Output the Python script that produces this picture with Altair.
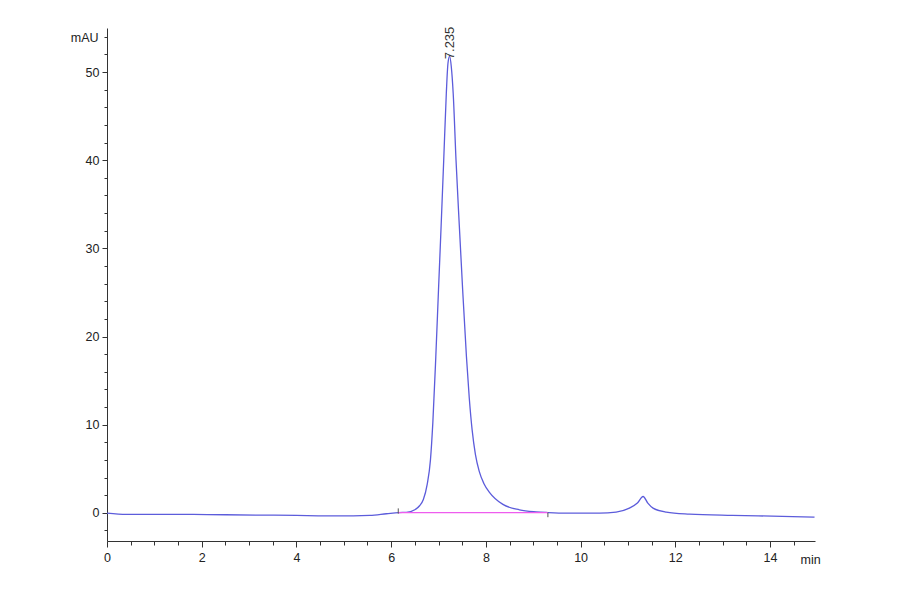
import altair as alt
import pandas as pd

# Chromatogram trace (minutes, mAU)
time_min = [0.00, 0.41, 1.00, 1.82, 2.50, 3.23, 4.00, 4.63, 5.20, 5.55, 5.90, 6.16, 6.32,
            6.50, 6.60, 6.68, 6.76, 6.83, 6.88, 6.943, 7.00, 7.055, 7.11, 7.165, 7.20, 7.235,
            7.27, 7.31, 7.37, 7.44, 7.51, 7.59, 7.65, 7.71, 7.78, 7.86, 7.96, 8.08, 8.36,
            8.71, 9.06, 9.31, 9.70, 10.40, 10.75, 11.03, 11.20, 11.32, 11.42, 11.53, 11.81,
            12.30, 13.20, 14.26, 14.94]
signal_mau = [-0.04, -0.19, -0.17, -0.19, -0.22, -0.26, -0.30, -0.34, -0.34, -0.30, -0.11, 0.03, 0.05,
              0.34, 0.80, 1.50, 3.20, 6.00, 10.2, 17.7, 25.3, 32.5, 40.0, 47.6, 51.0, 51.8,
              50.6, 47.6, 40.0, 32.5, 25.3, 17.7, 13.0, 9.4, 6.6, 4.7, 3.3, 2.3, 0.95,
              0.34, 0.11, 0.03, -0.04, -0.04, 0.08, 0.53, 1.10, 1.85, 1.10, 0.53, 0.08,
              -0.15, -0.30, -0.40, -0.50]

# Integration baseline and its end markers
base_t = [6.15, 9.31]
base_v = [0.03, 0.03]
mark_t = [6.15, 9.31]
mark_lo = [-0.10, -0.50]
mark_hi = [0.50, 0.03]

# Peak annotation
peak_t = [7.235]
peak_v = [51.8]
peak_lbl = ["7.235"]

x_tick_values = [i * 0.5 for i in range(30)]
y_tick_values = list(range(-2, 56, 2))

trace_df = pd.DataFrame({"t": time_min, "v": signal_mau})
base_df = pd.DataFrame({"t": base_t, "v": base_v})
mark_df = pd.DataFrame({"t": mark_t, "lo": mark_lo, "hi": mark_hi})
peak_df = pd.DataFrame({"t": peak_t, "v": peak_v, "lbl": peak_lbl})

AX_FONT = "Liberation Sans Narrow, Liberation Sans, Arial, sans-serif"
AX_COLOR = "#333333"

x_scale = alt.Scale(domain=[0, 14.95], nice=False, zero=False)
y_scale = alt.Scale(domain=[-3.2, 55], nice=False, zero=False)

x_axis = alt.Axis(
    values=x_tick_values, tickCount=200, labelFlush=False,
    labelExpr="datum.value % 2 === 0 ? '' + datum.value : ''",
    tickSize={"condition": {"test": "datum.value % 2 === 0", "value": 6}, "value": 4},
    grid=False, domainColor=AX_COLOR, tickColor=AX_COLOR, labelColor="#222222",
    labelFont=AX_FONT, labelFontSize=12.5, labelPadding=4, labelOverlap=False,
    title="min", titleFont=AX_FONT, titleFontSize=12.5, titleFontWeight="normal",
    titleColor="#222222", titleX=693, titleY=22, titleAlign="left",
    titleBaseline="alphabetic", titleAngle=0,
)
y_axis = alt.Axis(
    values=y_tick_values, tickCount=200, labelFlush=False,
    labelExpr="datum.value % 10 === 0 ? '' + datum.value : ''",
    tickSize={"condition": {"test": "datum.value % 10 === 0", "value": 5}, "value": 3},
    grid=False, domainColor=AX_COLOR, tickColor=AX_COLOR, labelColor="#222222",
    labelFont=AX_FONT, labelFontSize=12.5, labelPadding=3, labelOverlap=False,
    title="mAU", titleFont=AX_FONT, titleFontSize=12.5, titleFontWeight="normal",
    titleColor="#222222", titleAngle=0, titleAlign="right", titleBaseline="middle",
    titleX=-9, titleY=9,
)

trace = alt.Chart(trace_df).mark_line(
    color="#5c5cdb", strokeWidth=1.3, interpolate="monotone"
).encode(
    x=alt.X("t:Q", scale=x_scale, axis=x_axis),
    y=alt.Y("v:Q", scale=y_scale, axis=y_axis),
)

baseline = alt.Chart(base_df).mark_line(color="#ee5cee", strokeWidth=1.3).encode(
    x=alt.X("t:Q", scale=x_scale),
    y=alt.Y("v:Q", scale=y_scale),
)

markers = alt.Chart(mark_df).mark_rule(color="#555555", strokeWidth=1).encode(
    x=alt.X("t:Q", scale=x_scale),
    y=alt.Y("lo:Q", scale=y_scale),
    y2="hi:Q",
)

label = alt.Chart(peak_df).mark_text(
    angle=270, align="left", baseline="middle", dx=-3,
    font="Liberation Sans, Arial, sans-serif", fontSize=13, color="#333333",
).encode(
    x=alt.X("t:Q", scale=x_scale),
    y=alt.Y("v:Q", scale=y_scale),
    text="lbl:N",
)

chart = alt.layer(trace, baseline, markers, label).properties(
    width=708, height=513,
    autosize=alt.AutoSizeParams(type="none"),
    padding={"left": 99, "top": 20, "right": 60, "bottom": 45},
    background="white",
).configure_view(stroke=None)

chart.save("out.html", embed_options={"renderer": "svg", "actions": False})
